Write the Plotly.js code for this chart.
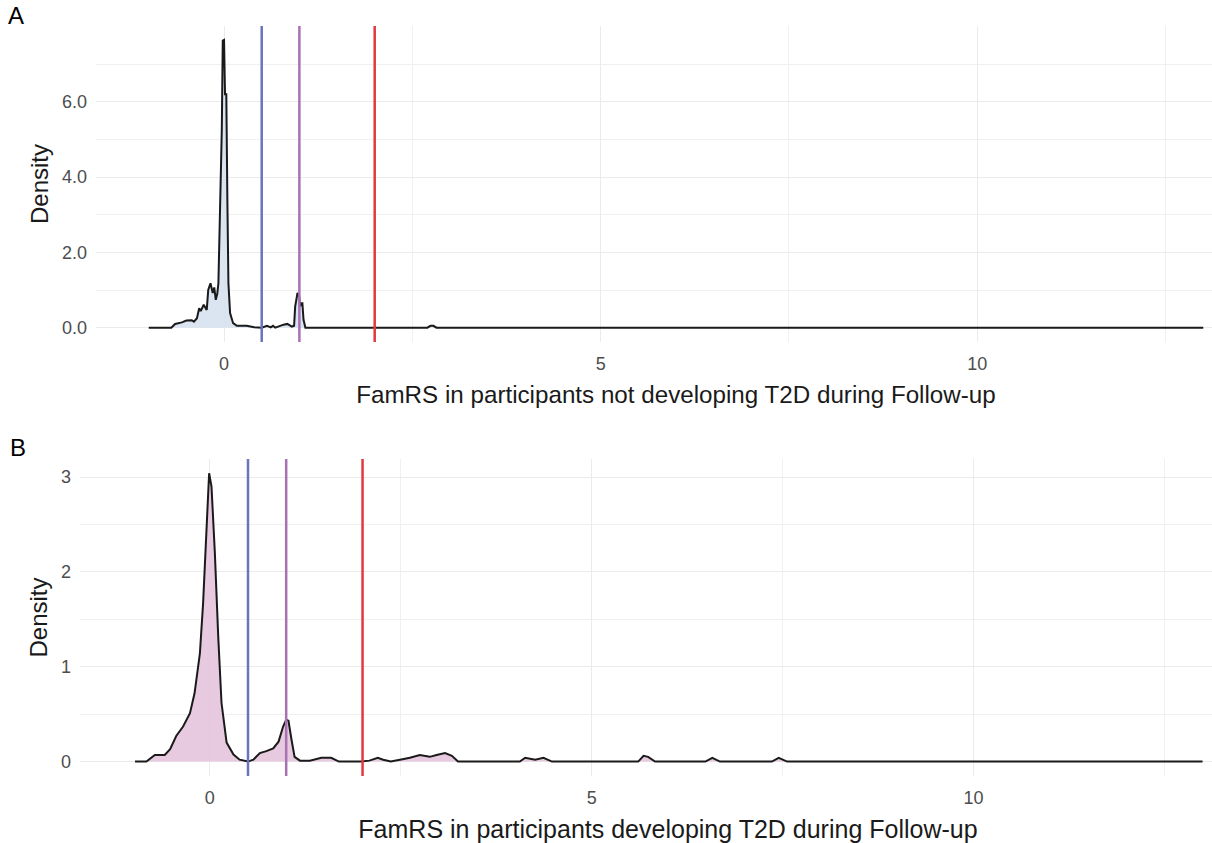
<!DOCTYPE html>
<html>
<head>
<meta charset="utf-8">
<script src="https://cdn.plot.ly/plotly-3.0.1.min.js"></script>
<style>
html, body { margin: 0; padding: 0; overflow: hidden; background: #ffffff; }
#chart { width: 1256px; height: 843px; }
</style>
</head>
<body>
<div id="chart"></div>
<script>
// Panel A: participants not developing T2D during follow-up
const famrsA = [-1.0, -0.70, -0.65, -0.56, -0.50, -0.43, -0.40, -0.36, -0.33, -0.31, -0.27, -0.23, -0.21, -0.18, -0.15, -0.13, -0.11, -0.09, -0.075, -0.062, -0.044, -0.03, -0.017, 0.0, 0.013, 0.03, 0.044, 0.058, 0.08, 0.12, 0.17, 0.30, 0.40, 0.50, 0.57, 0.62, 0.65, 0.68, 0.79, 0.84, 0.90, 0.93, 0.944, 0.975, 0.997, 1.01, 1.02, 1.04, 1.055, 1.08, 2.70, 2.74, 2.78, 2.82, 13.0];
const densityA = [0, 0, 0.10, 0.14, 0.19, 0.20, 0.16, 0.25, 0.52, 0.44, 0.61, 0.47, 1.00, 1.18, 0.92, 1.07, 0.74, 0.90, 1.18, 2.28, 4.27, 5.24, 7.62, 7.64, 6.20, 6.20, 3.39, 1.18, 0.39, 0.12, 0.05, 0.05, 0.01, 0, 0.05, 0.01, 0.05, 0, 0.08, 0.10, 0.03, 0.05, 0.56, 0.92, 0.84, 0.56, 0.65, 0.65, 0.21, 0, 0, 0.05, 0.05, 0, 0];

// Panel B: participants developing T2D during follow-up
const famrsB = [-0.98, -0.83, -0.72, -0.59, -0.52, -0.44, -0.35, -0.26, -0.20, -0.13, -0.088, -0.043, -0.009, 0.022, 0.066, 0.11, 0.153, 0.22, 0.31, 0.39, 0.50, 0.57, 0.655, 0.74, 0.83, 0.90, 0.96, 1.00, 1.03, 1.07, 1.11, 1.18, 1.31, 1.46, 1.59, 1.69, 1.98, 2.09, 2.20, 2.27, 2.37, 2.49, 2.62, 2.75, 2.88, 2.97, 3.08, 3.17, 3.25, 4.06, 4.13, 4.26, 4.37, 4.48, 5.61, 5.68, 5.74, 5.83, 6.49, 6.58, 6.68, 7.36, 7.45, 7.56, 13.0];
const densityB = [0, 0, 0.07, 0.07, 0.13, 0.27, 0.37, 0.51, 0.72, 1.14, 1.67, 2.44, 3.04, 2.90, 2.20, 1.32, 0.62, 0.20, 0.074, 0.02, 0, 0.02, 0.09, 0.11, 0.14, 0.21, 0.37, 0.44, 0.43, 0.23, 0.05, 0.01, 0.01, 0.04, 0.04, 0, 0, 0.01, 0.04, 0.02, 0, 0.02, 0.04, 0.07, 0.05, 0.07, 0.09, 0.06, 0, 0, 0.04, 0.02, 0.04, 0, 0, 0.06, 0.05, 0, 0, 0.04, 0, 0, 0.04, 0, 0];

// Threshold lines (same in both panels)
const thresholds = [0.5, 1.0, 2.0];
const thresholdColors = ['#6b73b9', '#a772b2', '#e0393e'];

// Axis ticks
const yTicksA = [0, 2, 4, 6];
const yTickTextA = ['0.0', '2.0', '4.0', '6.0'];
const yMinorA = [1, 3, 5, 7, 8];

// Text
const panelLabels = ['A', 'B'];
const xTitles = ['FamRS in participants not developing T2D during Follow-up', 'FamRS in participants developing T2D during Follow-up'];
const yTitle = 'Density';

const W = 1256, H = 843;
const FONT = 'Liberation Sans, Arial, sans-serif';
const GRID = '#ebebeb';

const traces = [
  { x: famrsA, y: densityA, xaxis: 'x', yaxis: 'y', type: 'scatter', mode: 'lines',
    line: { color: '#1a1a1a', width: 2 }, fill: 'tozeroy', fillcolor: 'rgba(214,226,239,0.9)',
    hoverinfo: 'x+y', showlegend: false },
  { x: famrsB, y: densityB, xaxis: 'x2', yaxis: 'y2', type: 'scatter', mode: 'lines',
    line: { color: '#1a1a1a', width: 2 }, fill: 'tozeroy', fillcolor: 'rgba(228,196,220,0.9)',
    hoverinfo: 'x+y', showlegend: false }
];

const shapes = [];
thresholds.forEach((t, i) => {
  ['x', 'x2'].forEach((xr, j) => {
    shapes.push({ type: 'line', xref: xr, yref: (j === 0 ? 'y' : 'y2') + ' domain',
      x0: t, x1: t, y0: 0, y1: 1, line: { color: thresholdColors[i], width: 2.5 }, layer: 'above' });
  });
});

function xaxisCfg(domainLeft, title, anchor, titleSize) {
  return {
    domain: [domainLeft / W, 1], range: [-1.7, 13.7], anchor: anchor,
    tick0: 0, dtick: 5, showgrid: true, gridcolor: GRID, gridwidth: 1.4,
    minor: { dtick: 2.5, tick0: 0, showgrid: true, gridcolor: '#f0f0f0', gridwidth: 1.1 },
    zeroline: false, showline: false, ticks: '',
    tickfont: { family: FONT, size: 18, color: '#4d4d4d' }, ticklabelstandoff: 9,
    title: { text: title, font: { family: FONT, size: titleSize, color: '#1a1a1a' }, standoff: 13 }
  };
}
function yaxisCfg(dom, range, anchor) {
  return {
    domain: dom, range: range, anchor: anchor,
    showgrid: true, gridcolor: GRID, gridwidth: 1.4,
    zeroline: false, showline: false, ticks: '',
    tickfont: { family: FONT, size: 18, color: '#4d4d4d' }, ticklabelstandoff: 8,
    title: { text: yTitle, font: { family: FONT, size: 24, color: '#1a1a1a' }, standoff: 6 }
  };
}

const yA = yaxisCfg([(H - 342) / H, (H - 26) / H], [-0.38, 8.01], 'x');
yA.tickmode = 'array'; yA.tickvals = yTicksA; yA.ticktext = yTickTextA;
yA.minor = { tickmode: 'array', tickvals: yMinorA, showgrid: true, gridcolor: '#f0f0f0', gridwidth: 1.1 };

const yB = yaxisCfg([(H - 776) / H, (H - 459) / H], [-0.152, 3.19], 'x2');
yB.tick0 = 0; yB.dtick = 1; yB.tickformat = 'd';
yB.minor = { dtick: 0.5, tick0: 0, showgrid: true, gridcolor: '#f0f0f0', gridwidth: 1.1 };

const layout = {
  width: W, height: H,
  margin: { l: 0, r: 0, t: 0, b: 0 },
  paper_bgcolor: '#ffffff', plot_bgcolor: '#ffffff',
  font: { family: FONT },
  showlegend: false,
  xaxis: xaxisCfg(96, xTitles[0], 'y', 24.2),
  yaxis: yA,
  xaxis2: xaxisCfg(80, xTitles[1], 'y2', 25),
  yaxis2: yB,
  shapes: shapes,
  annotations: [
    { text: panelLabels[0], xref: 'paper', yref: 'paper', x: 6 / W, y: 1 - 15 / H,
      xanchor: 'left', yanchor: 'middle', showarrow: false, font: { family: FONT, size: 24, color: '#000' } },
    { text: panelLabels[1], xref: 'paper', yref: 'paper', x: 8 / W, y: 1 - 448 / H,
      xanchor: 'left', yanchor: 'middle', showarrow: false, font: { family: FONT, size: 24, color: '#000' } }
  ]
};

Plotly.newPlot('chart', traces, layout, { displayModeBar: false, responsive: false, staticPlot: false });
</script>
</body>
</html>
